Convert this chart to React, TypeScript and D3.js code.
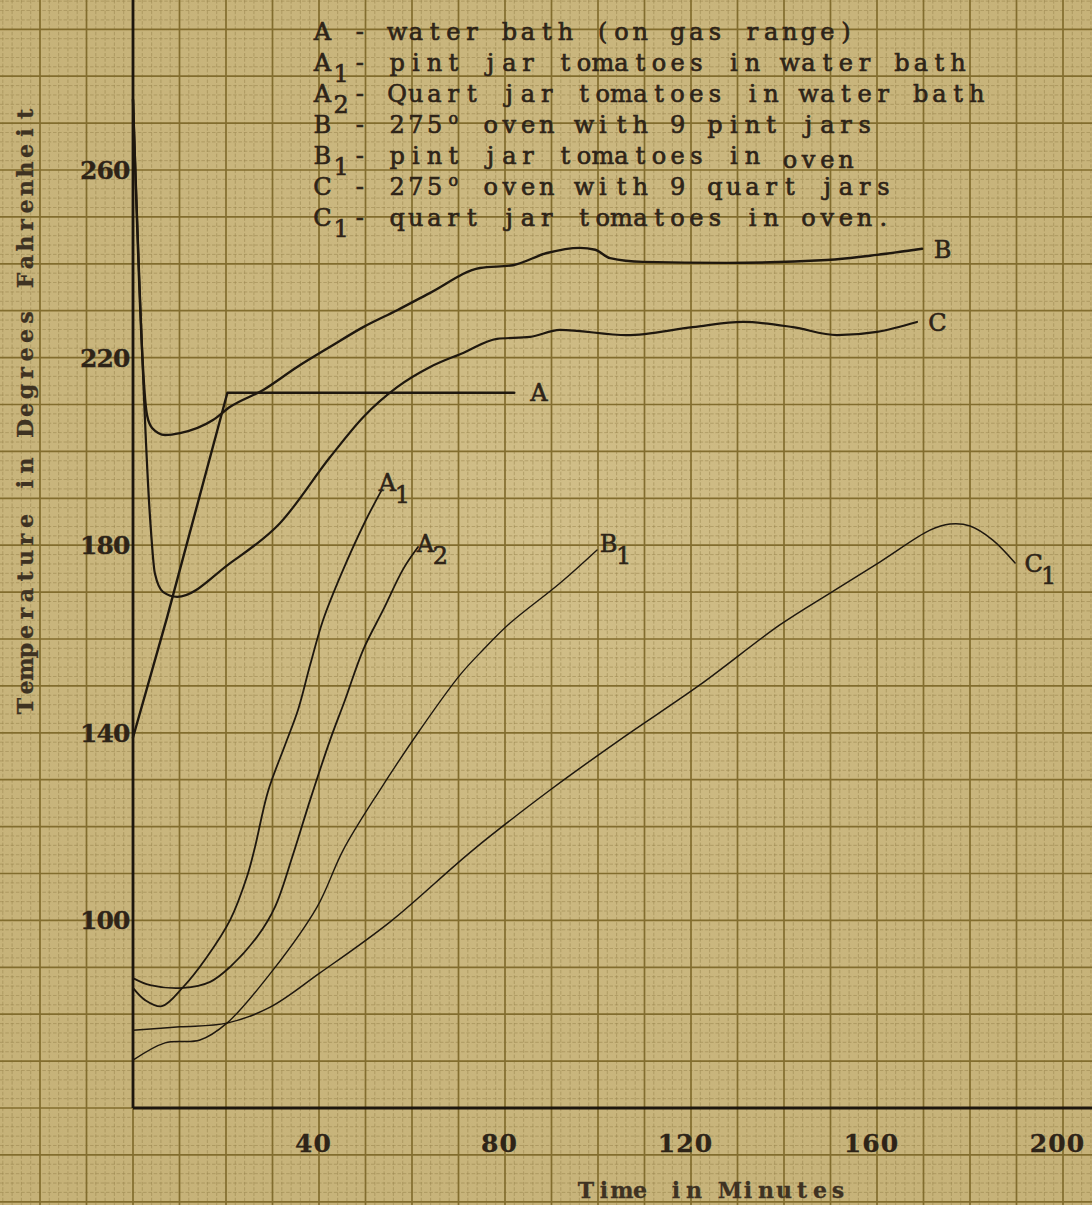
import React from 'react';
import * as d3 from 'd3';

type Pt = [number, number]; // [minutes, degrees F]

// ---- Data ----
const seriesA: Pt[] = [[0, 139], [7.3, 164.5], [20.3, 212.5], [82, 212.5]];
const seriesA1: Pt[] = [
  [0, 85.6], [2.6, 83.0], [6.2, 81.7], [10.8, 85.8], [15.9, 92.2], [20.9, 100.1],
  [24.5, 109.3], [26.2, 115.5], [29, 127.4], [32.7, 137.4], [35.5, 144.9], [38.1, 154.5],
  [40.9, 164.1], [44.9, 174.1], [49.9, 185], [53.5, 191.8],
];
const seriesA2: Pt[] = [
  [0, 87.7], [3.7, 86.2], [10.8, 85.6], [16.6, 86.9], [20.9, 90.1], [26.7, 96.5],
  [30.6, 103], [34.4, 114], [38.1, 125.7], [42.4, 138.5], [45.6, 147], [49.5, 157.7],
  [53.8, 166.2], [58.1, 174.9], [61.3, 179.6],
];
const seriesB: Pt[] = [
  [0, 275], [3.0, 207.8], [4.1, 205], [6.9, 203.5], [10.1, 203.9], [17.2, 206.7],
  [20.9, 209.5], [28, 213.1], [35.3, 218], [42.4, 222.3], [49.5, 226.5], [56.8, 230.1],
  [63.9, 233.8], [74.6, 239.1], [81.7, 239.7], [89, 242.3], [96.1, 243.4], [99.4, 243],
  [102.6, 241.2], [109.7, 240.4], [127.7, 240.2], [149.2, 240.8], [160, 241.9], [169.7, 243.2],
];
const seriesB1: Pt[] = [
  [0, 70.2], [6.9, 73.9], [14.4, 74.5], [20.2, 78.1], [30.1, 89.4], [39.6, 102.9],
  [45.2, 115], [53.1, 127.8], [61.7, 140.6], [70.3, 152.3], [75.3, 157.7], [81.1, 163.4],
  [91.8, 171.9], [99.8, 179],
];
const seriesC: Pt[] = [
  [0, 275], [3.7, 185.4], [4.7, 174], [6.5, 170], [9.5, 169], [20.9, 176.2],
  [31.6, 184.7], [42.4, 198.8], [49.5, 207.3], [56.8, 213.7], [63.9, 218], [71, 221],
  [78.3, 224], [85.4, 224.4], [91.8, 225.9], [106.2, 224.8], [120.4, 226.5], [131.2, 227.6],
  [141.9, 226.5], [151.4, 224.8], [160, 225.5], [168.6, 227.6],
];
const seriesC1: Pt[] = [
  [0, 76.6], [10.1, 77.3], [20.2, 78.1], [29.5, 81.5], [40.2, 88.8], [55.3, 99.7],
  [73.1, 115], [89.7, 127.8], [104.7, 138.5], [121.9, 150.2], [139.1, 163], [149.9, 169.8],
  [160.6, 176.4], [171.4, 183.2], [175.7, 184.5], [180, 184.1], [184.9, 181.1], [189.7, 176.2],
];

const xTicks = [40, 80, 120, 160, 200];
const yTicks = [100, 140, 180, 220, 260];

const xTitle = 'Time in Minutes';
const yTitle = 'Temperature in Degrees Fahrenheit';

// legend lines: [text, shift] ; shift 1 = subscript, -1 = superscript, 0.3 = slightly lowered
const legendLines: [string, number][][] = [
  [['A - water bath (on gas range)', 0]],
  [['A', 0], ['1', 1], ['- pint jar tomatoes in water bath', 0]],
  [['A', 0], ['2', 1], ['- Quart jar tomatoes in water bath', 0]],
  [['B - 275', 0], ['o', -1], [' oven with 9 pint jars', 0]],
  [['B', 0], ['1', 1], ['- pint jar tomatoes in ', 0], ['oven', 0.3]],
  [['C - 275', 0], ['o', -1], [' oven with 9 quart jars', 0]],
  [['C', 0], ['1', 1], ['- quart jar tomatoes in oven.', 0]],
];

interface SeriesDef { data: Pt[]; main: string; sub?: string; width: number; curve: any; dx: number; dy: number; }

const seriesDefs: SeriesDef[] = [
  { data: seriesA, main: 'A', width: 2.4, curve: d3.curveLinear, dx: 16, dy: 8 },
  { data: seriesB, main: 'B', width: 2.4, curve: d3.curveMonotoneX, dx: 12, dy: 9 },
  { data: seriesC, main: 'C', width: 2.2, curve: d3.curveMonotoneX, dx: 12, dy: 9 },
  { data: seriesA1, main: 'A', sub: '1', width: 1.8, curve: d3.curveCatmullRom.alpha(0.5), dx: -3, dy: 1 },
  { data: seriesA2, main: 'A', sub: '2', width: 1.8, curve: d3.curveCatmullRom.alpha(0.5), dx: -1, dy: 5 },
  { data: seriesB1, main: 'B', sub: '1', width: 1.4, curve: d3.curveCatmullRom.alpha(0.5), dx: 3, dy: 2 },
  { data: seriesC1, main: 'C', sub: '1', width: 1.5, curve: d3.curveCatmullRom.alpha(0.5), dx: 10, dy: 9 },
];

const SERIF = '"DejaVu Serif", "Liberation Serif", serif';
const INK = '#2e2418';

// Typewriter-style text: each character centred in a fixed-width cell
function TypeText(props: { x: number; y: number; text: string; cw: number; fs: number; anchor?: 'start' | 'end' | 'middle';
  weight?: string; fill?: string; stroke?: number; transform?: string; }) {
  const { x, y, text, cw, fs, anchor = 'start', weight = 'normal', fill = INK, stroke = 0.5, transform } = props;
  const n = text.length;
  const x0 = anchor === 'start' ? x : anchor === 'end' ? x - n * cw : x - (n * cw) / 2;
  const xs = Array.from(text).map((_, i) => (x0 + (i + 0.5) * cw).toFixed(1)).join(' ');
  return (
    <text x={xs} y={y} textAnchor="middle" fontFamily={SERIF} fontSize={fs} fontWeight={weight}
      fill={fill} stroke={fill} strokeWidth={stroke} transform={transform} style={{ whiteSpace: 'pre' }}>
      {text}
    </text>
  );
}

export default function App() {
  const W = 1092, H = 1205;
  const x = d3.scaleLinear().domain([0, 200]).range([133, 1063]);
  const y = d3.scaleLinear().domain([60, 260]).range([1108, 170]);

  const gridX = d3.range(Math.ceil(x.invert(0) / 2) * 2, x.invert(W) + 0.01, 2);
  const gridY = d3.range(Math.ceil(y.invert(H) / 2) * 2, y.invert(0) + 0.01, 2);
  const isMajor = (v: number) => Math.round(v) % 10 === 0;

  const legendX = 313, legendY = 40, legendStep = 31, cw = 18.7, lfs = 24;

  return (
    <svg width={W} height={H} style={{ position: 'absolute', left: 0, top: 0, display: 'block' }}
      xmlns="http://www.w3.org/2000/svg">
      <defs>
        <radialGradient id="paper" cx="50%" cy="45%" r="75%">
          <stop offset="0%" stopColor="#d8c793" stopOpacity={0.55} />
          <stop offset="100%" stopColor="#bba769" stopOpacity={0.3} />
        </radialGradient>
      </defs>
      <rect x={0} y={0} width={W} height={H} fill="#cab67e" />
      <rect x={0} y={0} width={W} height={H} fill="url(#paper)" />
      {/* minor grid */}
      <g>
        {gridX.filter(v => !isMajor(v)).map(v => (
          <line key={'mx' + v} x1={x(v)} x2={x(v)} y1={0} y2={H} stroke="#96824a" strokeWidth={0.85}
            strokeDasharray="3.5,1.8" opacity={0.6} />
        ))}
        {gridY.filter(v => !isMajor(v)).map(v => (
          <line key={'my' + v} x1={0} x2={W} y1={y(v)} y2={y(v)} stroke="#96824a" strokeWidth={0.85}
            strokeDasharray="3.5,1.8" opacity={0.6} />
        ))}
      </g>
      {/* major grid */}
      <g>
        {gridX.filter(isMajor).map(v => (
          <line key={'Mx' + v} x1={x(v)} x2={x(v)} y1={0} y2={H} stroke="#826d2e" strokeWidth={1.7} />
        ))}
        {gridY.filter(isMajor).map(v => (
          <line key={'My' + v} x1={0} x2={W} y1={y(v)} y2={y(v)} stroke="#826d2e" strokeWidth={1.7} />
        ))}
      </g>

      {/* axes */}
      <line x1={x(0)} x2={x(0)} y1={0} y2={y(60)} stroke="#1d160d" strokeWidth={2.8} />
      <line x1={x(0)} x2={W} y1={y(60)} y2={y(60)} stroke="#1d160d" strokeWidth={2.8} />

      {/* tick labels */}
      {yTicks.map(v => (
        <TypeText key={'yt' + v} x={x(0) - 3} y={y(v) + 9} text={String(v)} cw={16.5} fs={25}
          anchor="end" weight="bold" stroke={0.3} />
      ))}
      {xTicks.map(v => (
        <TypeText key={'xt' + v} x={x(v) - 6} y={y(60) + 44} text={String(v)} cw={18.5} fs={25}
          anchor="middle" weight="bold" stroke={0.3} />
      ))}

      {/* axis titles */}
      <TypeText x={712} y={1198} text={xTitle} cw={18} fs={22} anchor="middle" weight="bold"
        fill="#3e3222" stroke={0.3} />
      <TypeText x={0} y={0} transform={`translate(33,${410}) rotate(-90)`} text={yTitle} cw={18.5} fs={22}
        anchor="middle" weight="bold" fill="#3e3222" stroke={0.3} />

      {/* series */}
      <g fill="none" stroke="#1f180f" strokeLinejoin="round" strokeLinecap="round">
        {seriesDefs.map((s, i) => {
          const gen = d3.line<Pt>().x(d => x(d[0])).y(d => y(d[1])).curve(s.curve);
          return <path key={'s' + i} d={gen(s.data) || ''} strokeWidth={s.width} />;
        })}
      </g>

      {/* curve labels */}
      {seriesDefs.map((s, i) => {
        const last = s.data[s.data.length - 1];
        const lx = x(last[0]) + s.dx, ly = y(last[1]) + s.dy;
        return (
          <g key={'l' + i}>
            <TypeText x={lx} y={ly} text={s.main} cw={17} fs={24} stroke={0.6} />
            {s.sub && <TypeText x={lx + 16} y={ly + 12} text={s.sub} cw={15} fs={24} stroke={0.6} />}
          </g>
        );
      })}

      {/* legend */}
      {legendLines.map((segs, li) => {
        let col = 0;
        const base = legendY + li * legendStep;
        return (
          <g key={'lg' + li}>
            {segs.map(([t, sh], si) => {
              const cx = legendX + col * cw;
              col += t.length;
              const dy = sh === 1 ? 11 : sh === -1 ? -9 : sh * 12;
              return (
                <TypeText key={si} x={cx} y={base + dy} text={t} cw={cw} fs={sh === -1 ? 16 : lfs} stroke={0.65} />
              );
            })}
          </g>
        );
      })}
    </svg>
  );
}
